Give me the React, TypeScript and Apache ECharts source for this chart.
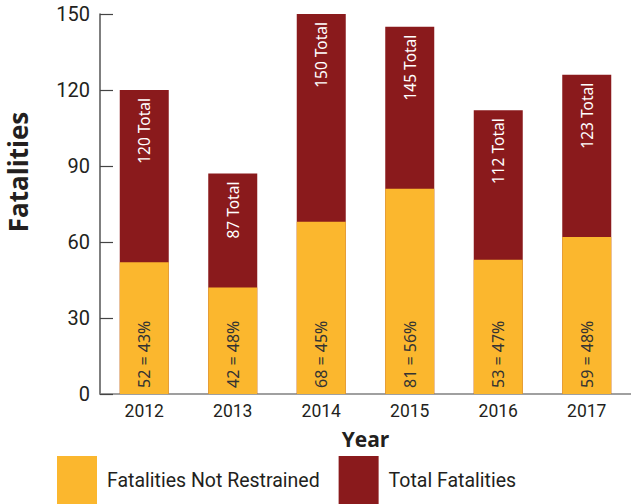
import React, { useEffect, useRef } from "react";
import * as echarts from "echarts";

const years = ["2012", "2013", "2014", "2015", "2016", "2017"];
// bar heights as drawn
const notRestrained = [52, 42, 68, 81, 53, 62];
const totals = [120, 87, 150, 145, 112, 126];
// printed label values
const notRestrainedLabel = [52, 42, 68, 81, 53, 59];
const pctLabel = [43, 48, 45, 56, 47, 48];
const totalLabel = [120, 87, 150, 145, 112, 123];
const yTicks = [0, 30, 60, 90, 120, 150];

const YELLOW = "#FBB72E";
const RED = "#8A1A1C";
const NARROW = "Roboto, 'Noto Sans', sans-serif";
const TEXT = "#231F20";

export default function App() {
  const ref = useRef<HTMLDivElement>(null);
  useEffect(() => {
    if (!ref.current) return;
    const chart = echarts.init(ref.current, null, { renderer: "svg" });
    chart.setOption({
      animation: false,
      backgroundColor: "#fff",
      grid: { left: 100, top: 14, width: 536, height: 380 },
      legend: {
        data: ["Fatalities Not Restrained", "Total Fatalities"],
        left: 57,
        top: 456,
        padding: 0,
        itemWidth: 40,
        itemHeight: 48,
        itemGap: 19,
        icon: "rect",
        textStyle: { fontSize: 19.5, fontFamily: NARROW, color: TEXT, padding: [0, 0, 0, 5] },
      },
      xAxis: {
        type: "category",
        data: years,
        axisLine: { lineStyle: { color: "#808080", width: 1.5 } },
        axisTick: { inside: true, length: 9, lineStyle: { color: "#444", width: 1.2 } },
        axisLabel: { fontSize: 17.5, fontFamily: NARROW, color: TEXT, margin: 8 },
        name: "Year",
        nameLocation: "middle",
        nameGap: 34,
        nameTextStyle: { fontSize: 21, fontWeight: "bold", fontFamily: "'Open Sans', sans-serif", color: TEXT },
      },
      yAxis: {
        type: "value",
        min: yTicks[0],
        max: yTicks[yTicks.length - 1],
        interval: 30,
        splitLine: { show: false },
        axisLine: { show: true, lineStyle: { color: "#555", width: 1.5 } },
        axisTick: { show: true, inside: true, length: 13, lineStyle: { color: "#444", width: 1.2 } },
        axisLabel: { fontSize: 20, fontFamily: NARROW, color: TEXT, margin: 10 },
      },
      graphic: [
        {
          type: "text",
          x: 18,
          y: 172,
          rotation: Math.PI / 2,
          style: {
            text: "Fatalities",
            fontSize: 26,
            fontWeight: "bold",
            fontFamily: "'Open Sans', sans-serif",
            fill: TEXT,
            textAlign: "center",
            textVerticalAlign: "middle",
          },
        },
      ],
      series: [
        {
          name: "Total Fatalities",
          type: "bar",
          data: totals,
          barWidth: 49,
          barGap: "-100%",
          itemStyle: { color: RED },
          label: {
            show: true,
            position: "insideTop",
            rotate: 90,
            align: "right",
            verticalAlign: "middle",
            distance: 8,
            fontSize: 15.5,
            fontFamily: "'Noto Sans', sans-serif",
            color: "#fff",
            formatter: (p: any) => `${totalLabel[p.dataIndex]} Total`,
          },
        },
        {
          name: "Fatalities Not Restrained",
          type: "bar",
          data: notRestrained,
          barWidth: 49,
          barGap: "-100%",
          itemStyle: { color: YELLOW },
          label: {
            show: true,
            position: "insideBottom",
            rotate: 90,
            align: "left",
            verticalAlign: "middle",
            distance: 6,
            fontSize: 16,
            fontFamily: "'Noto Sans', sans-serif",
            color: "#333",
            formatter: (p: any) => `${notRestrainedLabel[p.dataIndex]} = ${pctLabel[p.dataIndex]}%`,
          },
        },
      ],
    });
    return () => chart.dispose();
  }, []);
  return <div ref={ref} style={{ position: "fixed", left: 0, top: 0, width: 631, height: 504 }} />;
}
